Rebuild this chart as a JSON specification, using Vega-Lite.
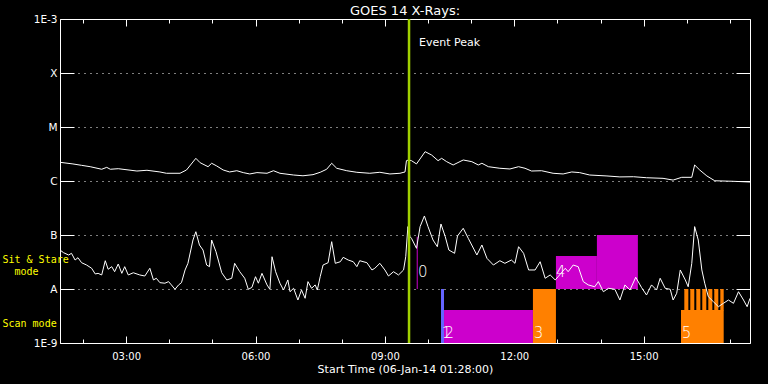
{
  "$schema": "https://vega.github.io/schema/vega-lite/v6.json",
  "width": 690,
  "height": 324,
  "autosize": "none",
  "padding": {"left": 60, "top": 19, "right": 18, "bottom": 41},
  "background": "black",
  "title": {"text": "GOES 14 X-Rays:", "color": "white", "fontSize": 13, "font": "DejaVu Sans", "fontWeight": "normal", "anchor": "middle", "offset": -4},
  "config": {
    "view": {"stroke": "white", "strokeWidth": 1},
    "axis": {"domain": false, "tickColor": "white", "tickWidth": 1, "labelColor": "white", "titleColor": "white", "labelFont": "DejaVu Sans", "titleFont": "DejaVu Sans", "titleFontWeight": "normal", "grid": false, "labelOverlap": false, "labelBound": false, "labelFlush": false}
  },
  "datasets": {
    "modes": [
      {"start": "2014-01-06T10:18:06", "end": "2014-01-06T10:22:18", "lo": 1e-9, "hi": 1e-8, "kind": "blue"},
      {"start": "2014-01-06T10:22:18", "end": "2014-01-06T12:26:00", "lo": 1e-9, "hi": 4.08e-9, "kind": "magenta"},
      {"start": "2014-01-06T12:26:00", "end": "2014-01-06T12:58:00", "lo": 1e-9, "hi": 1e-8, "kind": "orange"},
      {"start": "2014-01-06T12:58:00", "end": "2014-01-06T13:55:00", "lo": 1e-8, "hi": 4.08e-8, "kind": "magenta"},
      {"start": "2014-01-06T13:55:00", "end": "2014-01-06T14:52:00", "lo": 1e-8, "hi": 1e-7, "kind": "magenta"},
      {"start": "2014-01-06T15:52:00", "end": "2014-01-06T16:51:24", "lo": 1e-9, "hi": 4.08e-9, "kind": "orange"},
      {"start": "2014-01-06T15:56:36", "end": "2014-01-06T16:02:12", "lo": 4.0e-9, "hi": 1e-8, "kind": "orange"},
      {"start": "2014-01-06T16:04:54", "end": "2014-01-06T16:10:30", "lo": 4.0e-9, "hi": 1e-8, "kind": "orange"},
      {"start": "2014-01-06T16:13:18", "end": "2014-01-06T16:18:54", "lo": 4.0e-9, "hi": 1e-8, "kind": "orange"},
      {"start": "2014-01-06T16:21:36", "end": "2014-01-06T16:27:12", "lo": 4.0e-9, "hi": 1e-8, "kind": "orange"},
      {"start": "2014-01-06T16:30:00", "end": "2014-01-06T16:35:36", "lo": 4.0e-9, "hi": 1e-8, "kind": "orange"},
      {"start": "2014-01-06T16:38:18", "end": "2014-01-06T16:43:54", "lo": 4.0e-9, "hi": 1e-8, "kind": "orange"},
      {"start": "2014-01-06T16:46:42", "end": "2014-01-06T16:51:24", "lo": 4.0e-9, "hi": 1e-8, "kind": "orange"}
    ],
    "markers": [
      {"time": "2014-01-06T09:45:00", "lo": 1e-8, "hi": 9.3e-8}
    ],
    "events": [
      {"time": "2014-01-06T09:33:36", "label": "Event Peak", "labelTime": "2014-01-06T09:47:30", "labelFlux": 3.6e-4}
    ],
    "numbers": [
      {"label": "0", "time": "2014-01-06T09:46:00", "flux": 2.07e-8},
      {"label": "1", "time": "2014-01-06T10:19:00", "flux": 1.53e-9},
      {"label": "2", "time": "2014-01-06T10:23:00", "flux": 1.53e-9},
      {"label": "3", "time": "2014-01-06T12:27:00", "flux": 1.53e-9},
      {"label": "4", "time": "2014-01-06T12:58:00", "flux": 2.07e-8},
      {"label": "5", "time": "2014-01-06T15:53:00", "flux": 1.53e-9}
    ],
    "flux": [
      {"band": "long", "time": "2014-01-06T01:28", "flux": 2.22e-6},
      {"band": "long", "time": "2014-01-06T01:46", "flux": 2.07e-6},
      {"band": "long", "time": "2014-01-06T01:58", "flux": 1.95e-6},
      {"band": "long", "time": "2014-01-06T02:10", "flux": 1.84e-6},
      {"band": "long", "time": "2014-01-06T02:26", "flux": 1.65e-6},
      {"band": "long", "time": "2014-01-06T02:33", "flux": 1.79e-6},
      {"band": "long", "time": "2014-01-06T02:38", "flux": 1.65e-6},
      {"band": "long", "time": "2014-01-06T02:49", "flux": 1.69e-6},
      {"band": "long", "time": "2014-01-06T03:15", "flux": 1.53e-6},
      {"band": "long", "time": "2014-01-06T03:29", "flux": 1.58e-6},
      {"band": "long", "time": "2014-01-06T03:47", "flux": 1.47e-6},
      {"band": "long", "time": "2014-01-06T03:56", "flux": 1.39e-6},
      {"band": "long", "time": "2014-01-06T04:15", "flux": 1.39e-6},
      {"band": "long", "time": "2014-01-06T04:24", "flux": 1.60e-6},
      {"band": "long", "time": "2014-01-06T04:37", "flux": 2.63e-6},
      {"band": "long", "time": "2014-01-06T04:43", "flux": 2.18e-6},
      {"band": "long", "time": "2014-01-06T04:54", "flux": 1.84e-6},
      {"band": "long", "time": "2014-01-06T04:59", "flux": 2.13e-6},
      {"band": "long", "time": "2014-01-06T05:06", "flux": 1.90e-6},
      {"band": "long", "time": "2014-01-06T05:15", "flux": 1.60e-6},
      {"band": "long", "time": "2014-01-06T05:24", "flux": 1.47e-6},
      {"band": "long", "time": "2014-01-06T05:34", "flux": 1.55e-6},
      {"band": "long", "time": "2014-01-06T05:43", "flux": 1.43e-6},
      {"band": "long", "time": "2014-01-06T05:52", "flux": 1.35e-6},
      {"band": "long", "time": "2014-01-06T06:02", "flux": 1.43e-6},
      {"band": "long", "time": "2014-01-06T06:16", "flux": 1.39e-6},
      {"band": "long", "time": "2014-01-06T06:25", "flux": 1.55e-6},
      {"band": "long", "time": "2014-01-06T06:34", "flux": 1.39e-6},
      {"band": "long", "time": "2014-01-06T06:53", "flux": 1.29e-6},
      {"band": "long", "time": "2014-01-06T07:06", "flux": 1.25e-6},
      {"band": "long", "time": "2014-01-06T07:20", "flux": 1.31e-6},
      {"band": "long", "time": "2014-01-06T07:30", "flux": 1.45e-6},
      {"band": "long", "time": "2014-01-06T07:39", "flux": 1.65e-6},
      {"band": "long", "time": "2014-01-06T07:46", "flux": 2.13e-6},
      {"band": "long", "time": "2014-01-06T07:53", "flux": 1.72e-6},
      {"band": "long", "time": "2014-01-06T08:07", "flux": 1.55e-6},
      {"band": "long", "time": "2014-01-06T08:21", "flux": 1.45e-6},
      {"band": "long", "time": "2014-01-06T08:39", "flux": 1.39e-6},
      {"band": "long", "time": "2014-01-06T08:53", "flux": 1.45e-6},
      {"band": "long", "time": "2014-01-06T09:07", "flux": 1.35e-6},
      {"band": "long", "time": "2014-01-06T09:21", "flux": 1.39e-6},
      {"band": "long", "time": "2014-01-06T09:28", "flux": 1.47e-6},
      {"band": "long", "time": "2014-01-06T09:30", "flux": 2.38e-6},
      {"band": "long", "time": "2014-01-06T09:33", "flux": 2.45e-6},
      {"band": "long", "time": "2014-01-06T09:37", "flux": 2.38e-6},
      {"band": "long", "time": "2014-01-06T09:44", "flux": 2.07e-6},
      {"band": "long", "time": "2014-01-06T09:56", "flux": 3.49e-6},
      {"band": "long", "time": "2014-01-06T10:05", "flux": 3.03e-6},
      {"band": "long", "time": "2014-01-06T10:14", "flux": 2.38e-6},
      {"band": "long", "time": "2014-01-06T10:19", "flux": 2.63e-6},
      {"band": "long", "time": "2014-01-06T10:26", "flux": 2.28e-6},
      {"band": "long", "time": "2014-01-06T10:35", "flux": 1.98e-6},
      {"band": "long", "time": "2014-01-06T10:49", "flux": 2.45e-6},
      {"band": "long", "time": "2014-01-06T11:01", "flux": 2.28e-6},
      {"band": "long", "time": "2014-01-06T11:10", "flux": 1.98e-6},
      {"band": "long", "time": "2014-01-06T11:15", "flux": 2.13e-6},
      {"band": "long", "time": "2014-01-06T11:24", "flux": 1.84e-6},
      {"band": "long", "time": "2014-01-06T11:40", "flux": 1.72e-6},
      {"band": "long", "time": "2014-01-06T11:54", "flux": 1.67e-6},
      {"band": "long", "time": "2014-01-06T12:06", "flux": 1.84e-6},
      {"band": "long", "time": "2014-01-06T12:15", "flux": 1.72e-6},
      {"band": "long", "time": "2014-01-06T12:24", "flux": 1.53e-6},
      {"band": "long", "time": "2014-01-06T12:38", "flux": 1.55e-6},
      {"band": "long", "time": "2014-01-06T12:54", "flux": 1.39e-6},
      {"band": "long", "time": "2014-01-06T13:08", "flux": 1.35e-6},
      {"band": "long", "time": "2014-01-06T13:20", "flux": 1.47e-6},
      {"band": "long", "time": "2014-01-06T13:31", "flux": 1.43e-6},
      {"band": "long", "time": "2014-01-06T13:45", "flux": 1.29e-6},
      {"band": "long", "time": "2014-01-06T14:09", "flux": 1.24e-6},
      {"band": "long", "time": "2014-01-06T14:27", "flux": 1.19e-6},
      {"band": "long", "time": "2014-01-06T14:46", "flux": 1.20e-6},
      {"band": "long", "time": "2014-01-06T15:04", "flux": 1.15e-6},
      {"band": "long", "time": "2014-01-06T15:27", "flux": 1.12e-6},
      {"band": "long", "time": "2014-01-06T15:41", "flux": 1.04e-6},
      {"band": "long", "time": "2014-01-06T15:53", "flux": 1.17e-6},
      {"band": "long", "time": "2014-01-06T16:07", "flux": 1.17e-6},
      {"band": "long", "time": "2014-01-06T16:11", "flux": 1.98e-6},
      {"band": "long", "time": "2014-01-06T16:18", "flux": 1.60e-6},
      {"band": "long", "time": "2014-01-06T16:28", "flux": 1.24e-6},
      {"band": "long", "time": "2014-01-06T16:39", "flux": 1.01e-6},
      {"band": "long", "time": "2014-01-06T17:05", "flux": 9.87e-7},
      {"band": "long", "time": "2014-01-06T17:28", "flux": 9.58e-7},
      {"band": "short", "time": "2014-01-06T01:28", "flux": 5.27e-8},
      {"band": "short", "time": "2014-01-06T01:33", "flux": 4.70e-8},
      {"band": "short", "time": "2014-01-06T01:40", "flux": 4.26e-8},
      {"band": "short", "time": "2014-01-06T01:44", "flux": 4.58e-8},
      {"band": "short", "time": "2014-01-06T01:49", "flux": 3.44e-8},
      {"band": "short", "time": "2014-01-06T01:53", "flux": 3.80e-8},
      {"band": "short", "time": "2014-01-06T01:58", "flux": 3.07e-8},
      {"band": "short", "time": "2014-01-06T02:05", "flux": 2.78e-8},
      {"band": "short", "time": "2014-01-06T02:12", "flux": 2.42e-8},
      {"band": "short", "time": "2014-01-06T02:17", "flux": 1.90e-8},
      {"band": "short", "time": "2014-01-06T02:21", "flux": 1.95e-8},
      {"band": "short", "time": "2014-01-06T02:26", "flux": 1.82e-8},
      {"band": "short", "time": "2014-01-06T02:31", "flux": 3.34e-8},
      {"band": "short", "time": "2014-01-06T02:35", "flux": 2.32e-8},
      {"band": "short", "time": "2014-01-06T02:40", "flux": 2.59e-8},
      {"band": "short", "time": "2014-01-06T02:44", "flux": 2.09e-8},
      {"band": "short", "time": "2014-01-06T02:49", "flux": 2.90e-8},
      {"band": "short", "time": "2014-01-06T02:54", "flux": 1.95e-8},
      {"band": "short", "time": "2014-01-06T02:58", "flux": 2.59e-8},
      {"band": "short", "time": "2014-01-06T03:03", "flux": 1.82e-8},
      {"band": "short", "time": "2014-01-06T03:10", "flux": 2.00e-8},
      {"band": "short", "time": "2014-01-06T03:19", "flux": 1.82e-8},
      {"band": "short", "time": "2014-01-06T03:26", "flux": 1.74e-8},
      {"band": "short", "time": "2014-01-06T03:33", "flux": 2.42e-8},
      {"band": "short", "time": "2014-01-06T03:38", "flux": 1.47e-8},
      {"band": "short", "time": "2014-01-06T03:42", "flux": 1.58e-8},
      {"band": "short", "time": "2014-01-06T03:47", "flux": 1.31e-8},
      {"band": "short", "time": "2014-01-06T03:54", "flux": 1.28e-8},
      {"band": "short", "time": "2014-01-06T03:59", "flux": 1.37e-8},
      {"band": "short", "time": "2014-01-06T04:03", "flux": 1.19e-8},
      {"band": "short", "time": "2014-01-06T04:08", "flux": 9.87e-9},
      {"band": "short", "time": "2014-01-06T04:13", "flux": 1.19e-8},
      {"band": "short", "time": "2014-01-06T04:17", "flux": 1.31e-8},
      {"band": "short", "time": "2014-01-06T04:22", "flux": 2.25e-8},
      {"band": "short", "time": "2014-01-06T04:26", "flux": 2.99e-8},
      {"band": "short", "time": "2014-01-06T04:33", "flux": 8.08e-8},
      {"band": "short", "time": "2014-01-06T04:37", "flux": 1.15e-7},
      {"band": "short", "time": "2014-01-06T04:42", "flux": 6.53e-8},
      {"band": "short", "time": "2014-01-06T04:47", "flux": 5.27e-8},
      {"band": "short", "time": "2014-01-06T04:52", "flux": 2.78e-8},
      {"band": "short", "time": "2014-01-06T04:56", "flux": 2.59e-8},
      {"band": "short", "time": "2014-01-06T04:59", "flux": 8.08e-8},
      {"band": "short", "time": "2014-01-06T05:05", "flux": 4.91e-8},
      {"band": "short", "time": "2014-01-06T05:13", "flux": 2.00e-8},
      {"band": "short", "time": "2014-01-06T05:20", "flux": 1.47e-8},
      {"band": "short", "time": "2014-01-06T05:27", "flux": 1.58e-8},
      {"band": "short", "time": "2014-01-06T05:31", "flux": 2.99e-8},
      {"band": "short", "time": "2014-01-06T05:38", "flux": 2.10e-8},
      {"band": "short", "time": "2014-01-06T05:45", "flux": 1.58e-8},
      {"band": "short", "time": "2014-01-06T05:50", "flux": 9.87e-9},
      {"band": "short", "time": "2014-01-06T05:55", "flux": 1.07e-8},
      {"band": "short", "time": "2014-01-06T06:00", "flux": 1.69e-8},
      {"band": "short", "time": "2014-01-06T06:04", "flux": 1.28e-8},
      {"band": "short", "time": "2014-01-06T06:09", "flux": 1.95e-8},
      {"band": "short", "time": "2014-01-06T06:16", "flux": 1.19e-8},
      {"band": "short", "time": "2014-01-06T06:20", "flux": 9.87e-9},
      {"band": "short", "time": "2014-01-06T06:23", "flux": 3.96e-8},
      {"band": "short", "time": "2014-01-06T06:28", "flux": 2.09e-8},
      {"band": "short", "time": "2014-01-06T06:34", "flux": 1.28e-8},
      {"band": "short", "time": "2014-01-06T06:39", "flux": 9.58e-9},
      {"band": "short", "time": "2014-01-06T06:45", "flux": 1.47e-8},
      {"band": "short", "time": "2014-01-06T06:48", "flux": 8.91e-9},
      {"band": "short", "time": "2014-01-06T06:53", "flux": 1.03e-8},
      {"band": "short", "time": "2014-01-06T06:59", "flux": 6.25e-9},
      {"band": "short", "time": "2014-01-06T07:04", "flux": 9.58e-9},
      {"band": "short", "time": "2014-01-06T07:09", "flux": 6.73e-9},
      {"band": "short", "time": "2014-01-06T07:13", "flux": 1.37e-8},
      {"band": "short", "time": "2014-01-06T07:18", "flux": 1.03e-8},
      {"band": "short", "time": "2014-01-06T07:23", "flux": 1.19e-8},
      {"band": "short", "time": "2014-01-06T07:26", "flux": 9.58e-9},
      {"band": "short", "time": "2014-01-06T07:30", "flux": 1.69e-8},
      {"band": "short", "time": "2014-01-06T07:34", "flux": 2.78e-8},
      {"band": "short", "time": "2014-01-06T07:41", "flux": 3.07e-8},
      {"band": "short", "time": "2014-01-06T07:46", "flux": 7.52e-8},
      {"band": "short", "time": "2014-01-06T07:51", "flux": 2.99e-8},
      {"band": "short", "time": "2014-01-06T07:58", "flux": 3.20e-8},
      {"band": "short", "time": "2014-01-06T08:02", "flux": 3.86e-8},
      {"band": "short", "time": "2014-01-06T08:09", "flux": 3.44e-8},
      {"band": "short", "time": "2014-01-06T08:16", "flux": 3.20e-8},
      {"band": "short", "time": "2014-01-06T08:21", "flux": 2.59e-8},
      {"band": "short", "time": "2014-01-06T08:25", "flux": 3.34e-8},
      {"band": "short", "time": "2014-01-06T08:35", "flux": 3.07e-8},
      {"band": "short", "time": "2014-01-06T08:42", "flux": 2.25e-8},
      {"band": "short", "time": "2014-01-06T08:46", "flux": 2.42e-8},
      {"band": "short", "time": "2014-01-06T08:53", "flux": 2.99e-8},
      {"band": "short", "time": "2014-01-06T09:00", "flux": 2.25e-8},
      {"band": "short", "time": "2014-01-06T09:05", "flux": 1.74e-8},
      {"band": "short", "time": "2014-01-06T09:12", "flux": 2.09e-8},
      {"band": "short", "time": "2014-01-06T09:19", "flux": 1.82e-8},
      {"band": "short", "time": "2014-01-06T09:26", "flux": 2.25e-8},
      {"band": "short", "time": "2014-01-06T09:29", "flux": 3.96e-8},
      {"band": "short", "time": "2014-01-06T09:32", "flux": 1.43e-7},
      {"band": "short", "time": "2014-01-06T09:35", "flux": 9.30e-8},
      {"band": "short", "time": "2014-01-06T09:37", "flux": 8.69e-8},
      {"band": "short", "time": "2014-01-06T09:44", "flux": 5.67e-8},
      {"band": "short", "time": "2014-01-06T09:49", "flux": 1.43e-7},
      {"band": "short", "time": "2014-01-06T09:55", "flux": 2.25e-7},
      {"band": "short", "time": "2014-01-06T10:00", "flux": 1.43e-7},
      {"band": "short", "time": "2014-01-06T10:07", "flux": 8.08e-8},
      {"band": "short", "time": "2014-01-06T10:13", "flux": 6.07e-8},
      {"band": "short", "time": "2014-01-06T10:18", "flux": 1.60e-7},
      {"band": "short", "time": "2014-01-06T10:24", "flux": 9.30e-8},
      {"band": "short", "time": "2014-01-06T10:29", "flux": 5.27e-8},
      {"band": "short", "time": "2014-01-06T10:37", "flux": 4.58e-8},
      {"band": "short", "time": "2014-01-06T10:41", "flux": 9.58e-8},
      {"band": "short", "time": "2014-01-06T10:49", "flux": 1.33e-7},
      {"band": "short", "time": "2014-01-06T10:56", "flux": 8.69e-8},
      {"band": "short", "time": "2014-01-06T11:08", "flux": 4.26e-8},
      {"band": "short", "time": "2014-01-06T11:15", "flux": 6.53e-8},
      {"band": "short", "time": "2014-01-06T11:22", "flux": 3.70e-8},
      {"band": "short", "time": "2014-01-06T11:31", "flux": 2.78e-8},
      {"band": "short", "time": "2014-01-06T11:40", "flux": 3.34e-8},
      {"band": "short", "time": "2014-01-06T11:47", "flux": 2.99e-8},
      {"band": "short", "time": "2014-01-06T11:56", "flux": 3.44e-8},
      {"band": "short", "time": "2014-01-06T12:01", "flux": 2.99e-8},
      {"band": "short", "time": "2014-01-06T12:06", "flux": 6.07e-8},
      {"band": "short", "time": "2014-01-06T12:13", "flux": 4.58e-8},
      {"band": "short", "time": "2014-01-06T12:20", "flux": 2.25e-8},
      {"band": "short", "time": "2014-01-06T12:29", "flux": 2.25e-8},
      {"band": "short", "time": "2014-01-06T12:36", "flux": 3.20e-8},
      {"band": "short", "time": "2014-01-06T12:43", "flux": 1.58e-8},
      {"band": "short", "time": "2014-01-06T12:50", "flux": 1.82e-8},
      {"band": "short", "time": "2014-01-06T12:57", "flux": 1.47e-8},
      {"band": "short", "time": "2014-01-06T13:01", "flux": 1.69e-8},
      {"band": "short", "time": "2014-01-06T13:11", "flux": 2.42e-8},
      {"band": "short", "time": "2014-01-06T13:15", "flux": 2.09e-8},
      {"band": "short", "time": "2014-01-06T13:22", "flux": 2.78e-8},
      {"band": "short", "time": "2014-01-06T13:29", "flux": 2.59e-8},
      {"band": "short", "time": "2014-01-06T13:36", "flux": 1.37e-8},
      {"band": "short", "time": "2014-01-06T13:43", "flux": 1.19e-8},
      {"band": "short", "time": "2014-01-06T13:52", "flux": 1.10e-8},
      {"band": "short", "time": "2014-01-06T13:57", "flux": 1.37e-8},
      {"band": "short", "time": "2014-01-06T14:04", "flux": 8.91e-9},
      {"band": "short", "time": "2014-01-06T14:11", "flux": 1.03e-8},
      {"band": "short", "time": "2014-01-06T14:20", "flux": 9.87e-9},
      {"band": "short", "time": "2014-01-06T14:27", "flux": 6.25e-9},
      {"band": "short", "time": "2014-01-06T14:34", "flux": 1.19e-8},
      {"band": "short", "time": "2014-01-06T14:41", "flux": 9.58e-9},
      {"band": "short", "time": "2014-01-06T14:49", "flux": 1.65e-8},
      {"band": "short", "time": "2014-01-06T14:57", "flux": 1.07e-8},
      {"band": "short", "time": "2014-01-06T15:04", "flux": 7.74e-9},
      {"band": "short", "time": "2014-01-06T15:11", "flux": 1.19e-8},
      {"band": "short", "time": "2014-01-06T15:18", "flux": 9.58e-9},
      {"band": "short", "time": "2014-01-06T15:23", "flux": 1.58e-8},
      {"band": "short", "time": "2014-01-06T15:30", "flux": 1.03e-8},
      {"band": "short", "time": "2014-01-06T15:37", "flux": 9.87e-9},
      {"band": "short", "time": "2014-01-06T15:41", "flux": 6.25e-9},
      {"band": "short", "time": "2014-01-06T15:46", "flux": 8.33e-9},
      {"band": "short", "time": "2014-01-06T15:51", "flux": 2.25e-8},
      {"band": "short", "time": "2014-01-06T15:58", "flux": 1.47e-8},
      {"band": "short", "time": "2014-01-06T16:02", "flux": 1.10e-8},
      {"band": "short", "time": "2014-01-06T16:07", "flux": 2.99e-8},
      {"band": "short", "time": "2014-01-06T16:11", "flux": 1.43e-7},
      {"band": "short", "time": "2014-01-06T16:16", "flux": 8.08e-8},
      {"band": "short", "time": "2014-01-06T16:21", "flux": 2.25e-8},
      {"band": "short", "time": "2014-01-06T16:25", "flux": 1.28e-8},
      {"band": "short", "time": "2014-01-06T16:30", "flux": 7.20e-9},
      {"band": "short", "time": "2014-01-06T16:37", "flux": 5.82e-9},
      {"band": "short", "time": "2014-01-06T16:44", "flux": 4.70e-9},
      {"band": "short", "time": "2014-01-06T16:51", "flux": 5.43e-9},
      {"band": "short", "time": "2014-01-06T16:58", "flux": 6.25e-9},
      {"band": "short", "time": "2014-01-06T17:05", "flux": 5.43e-9},
      {"band": "short", "time": "2014-01-06T17:12", "flux": 8.91e-9},
      {"band": "short", "time": "2014-01-06T17:19", "flux": 6.25e-9},
      {"band": "short", "time": "2014-01-06T17:24", "flux": 4.70e-9},
      {"band": "short", "time": "2014-01-06T17:28", "flux": 6.73e-9}
    ]
  },
  "resolve": {"axis": {"x": "independent", "y": "independent"}},
  "layer": [
    {
      "data": {"name": "modes"},
      "mark": {"type": "rect"},
      "encoding": {
        "x": {"field": "start", "type": "temporal",
          "scale": {"domain": [{"year": 2014, "month": 1, "date": 6, "hours": 1, "minutes": 28}, {"year": 2014, "month": 1, "date": 6, "hours": 17, "minutes": 28}], "nice": false},
          "axis": {"orient": "bottom", "values": [{"year": 2014, "month": 1, "date": 6, "hours": 3}, {"year": 2014, "month": 1, "date": 6, "hours": 6}, {"year": 2014, "month": 1, "date": 6, "hours": 9}, {"year": 2014, "month": 1, "date": 6, "hours": 12}, {"year": 2014, "month": 1, "date": 6, "hours": 15}],
            "format": "%H:%M", "tickSize": -7, "labelPadding": 15, "labelFontSize": 10, "title": "Start Time (06-Jan-14 01:28:00)", "titleFontSize": 11, "titlePadding": 2}},
        "x2": {"field": "end"},
        "y": {"field": "lo", "type": "quantitative",
          "scale": {"type": "log", "domain": [1e-9, 1e-3], "nice": false},
          "axis": {"orient": "left", "values": [1e-9, 1e-8, 1e-7, 1e-6, 1e-5, 1e-4, 1e-3],
            "labelExpr": "datum.value < 5e-9 ? '1E-9' : datum.value < 5e-8 ? 'A' : datum.value < 5e-7 ? 'B' : datum.value < 5e-6 ? 'C' : datum.value < 5e-5 ? 'M' : datum.value < 5e-4 ? 'X' : '1E-3'",
            "tickSize": -14, "labelPadding": 17, "labelFontSize": 10.5, "title": null,
            "grid": true, "gridColor": "white", "gridDash": [1, 5], "gridOpacity": 1, "gridWidth": 1}},
        "y2": {"field": "hi"},
        "color": {"field": "kind", "type": "nominal", "scale": {"domain": ["blue", "magenta", "orange"], "range": ["#6464ff", "#cc00cc", "#ff8000"]}, "legend": null}
      }
    },
    {
      "data": {"name": "markers"},
      "mark": {"type": "rule", "color": "#cc00cc", "strokeWidth": 1},
      "encoding": {
        "x": {"field": "time", "type": "temporal", "scale": {"domain": [{"year": 2014, "month": 1, "date": 6, "hours": 1, "minutes": 28}, {"year": 2014, "month": 1, "date": 6, "hours": 17, "minutes": 28}], "nice": false},
          "axis": {"orient": "bottom", "values": [{"year": 2014, "month": 1, "date": 6, "hours": 2}, {"year": 2014, "month": 1, "date": 6, "hours": 4}, {"year": 2014, "month": 1, "date": 6, "hours": 5}, {"year": 2014, "month": 1, "date": 6, "hours": 7}, {"year": 2014, "month": 1, "date": 6, "hours": 8}, {"year": 2014, "month": 1, "date": 6, "hours": 10}, {"year": 2014, "month": 1, "date": 6, "hours": 11}, {"year": 2014, "month": 1, "date": 6, "hours": 13}, {"year": 2014, "month": 1, "date": 6, "hours": 14}, {"year": 2014, "month": 1, "date": 6, "hours": 16}, {"year": 2014, "month": 1, "date": 6, "hours": 17}],
            "tickSize": -4, "labels": false, "title": null}},
        "y": {"field": "lo", "type": "quantitative", "scale": {"type": "log", "domain": [1e-9, 1e-3], "nice": false},
          "axis": {"orient": "right", "values": [1e-9, 1e-8, 1e-7, 1e-6, 1e-5, 1e-4, 1e-3], "tickSize": -14, "labels": false, "title": null}},
        "y2": {"field": "hi"}
      }
    },
    {
      "data": {"name": "flux"},
      "mark": {"type": "line", "color": "white", "strokeWidth": 1, "interpolate": "linear"},
      "encoding": {
        "x": {"field": "time", "type": "temporal", "scale": {"domain": [{"year": 2014, "month": 1, "date": 6, "hours": 1, "minutes": 28}, {"year": 2014, "month": 1, "date": 6, "hours": 17, "minutes": 28}], "nice": false},
          "axis": {"orient": "top", "values": [{"year": 2014, "month": 1, "date": 6, "hours": 3}, {"year": 2014, "month": 1, "date": 6, "hours": 6}, {"year": 2014, "month": 1, "date": 6, "hours": 9}, {"year": 2014, "month": 1, "date": 6, "hours": 12}, {"year": 2014, "month": 1, "date": 6, "hours": 15}],
            "tickSize": -7, "labels": false, "title": null}},
        "y": {"field": "flux", "type": "quantitative", "scale": {"type": "log", "domain": [1e-9, 1e-3], "nice": false},
          "axis": {"orient": "left", "values": [3.59e-8, 2.25e-9],
            "labelExpr": "datum.value > 3e-8 ? 'Sit & Stare' : 'Scan mode'",
            "ticks": false, "labelAlign": "left", "labelPadding": 58, "labelColor": "#ffff00", "labelFont": "DejaVu Sans Mono", "labelFontSize": 10, "title": null, "grid": false}},
        "detail": {"field": "band"}
      }
    },
    {
      "data": {"name": "events"},
      "mark": {"type": "rule", "color": "#a0d000", "strokeWidth": 2.5},
      "encoding": {
        "x": {"field": "time", "type": "temporal", "scale": {"domain": [{"year": 2014, "month": 1, "date": 6, "hours": 1, "minutes": 28}, {"year": 2014, "month": 1, "date": 6, "hours": 17, "minutes": 28}], "nice": false},
          "axis": {"orient": "top", "values": [{"year": 2014, "month": 1, "date": 6, "hours": 2}, {"year": 2014, "month": 1, "date": 6, "hours": 4}, {"year": 2014, "month": 1, "date": 6, "hours": 5}, {"year": 2014, "month": 1, "date": 6, "hours": 7}, {"year": 2014, "month": 1, "date": 6, "hours": 8}, {"year": 2014, "month": 1, "date": 6, "hours": 10}, {"year": 2014, "month": 1, "date": 6, "hours": 11}, {"year": 2014, "month": 1, "date": 6, "hours": 13}, {"year": 2014, "month": 1, "date": 6, "hours": 14}, {"year": 2014, "month": 1, "date": 6, "hours": 16}, {"year": 2014, "month": 1, "date": 6, "hours": 17}],
            "tickSize": -4, "labels": false, "title": null}}
      }
    },
    {
      "data": {"name": "events"},
      "mark": {"type": "text", "color": "white", "font": "DejaVu Sans", "fontSize": 11, "align": "left", "baseline": "middle"},
      "encoding": {
        "x": {"field": "labelTime", "type": "temporal", "scale": {"domain": [{"year": 2014, "month": 1, "date": 6, "hours": 1, "minutes": 28}, {"year": 2014, "month": 1, "date": 6, "hours": 17, "minutes": 28}], "nice": false}, "axis": null},
        "y": {"field": "labelFlux", "type": "quantitative", "scale": {"type": "log", "domain": [1e-9, 1e-3], "nice": false}, "axis": null},
        "text": {"field": "label"}
      }
    },
    {
      "data": {"name": "numbers"},
      "mark": {"type": "text", "color": "white", "font": "DejaVu Sans", "fontSize": 15, "fontWeight": 200, "align": "left", "baseline": "middle"},
      "encoding": {
        "x": {"field": "time", "type": "temporal", "scale": {"domain": [{"year": 2014, "month": 1, "date": 6, "hours": 1, "minutes": 28}, {"year": 2014, "month": 1, "date": 6, "hours": 17, "minutes": 28}], "nice": false}, "axis": null},
        "y": {"field": "flux", "type": "quantitative", "scale": {"type": "log", "domain": [1e-9, 1e-3], "nice": false},
          "axis": {"orient": "left", "values": [2.15e-8], "labelExpr": "'mode'",
            "ticks": false, "labelAlign": "left", "labelPadding": 46, "labelColor": "#ffff00", "labelFont": "DejaVu Sans Mono", "labelFontSize": 10, "title": null, "grid": false}},
        "text": {"field": "label"}
      }
    }
  ]
}
